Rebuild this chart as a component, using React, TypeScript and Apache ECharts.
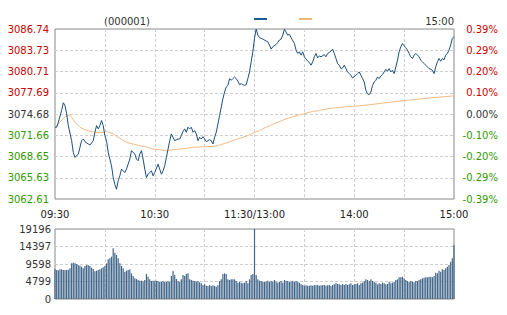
import React, { useEffect, useRef } from 'react';
import * as echarts from 'echarts';

// ---- tick labels ----
const priceTicks = ['3062.61', '3065.63', '3068.65', '3071.66', '3074.68', '3077.69', '3080.71', '3083.73', '3086.74'];
const pctTicks = ['-0.39%', '-0.29%', '-0.20%', '-0.10%', '0.00%', '0.10%', '0.20%', '0.29%', '0.39%'];
const volTicks = [0, 4799, 9598, 14397, 19196];
const timeTickMinutes = [0, 60, 120, 180, 240];
const timeTickLabels = ['09:30', '10:30', '11:30/13:00', '14:00', '15:00'];

// ---- price line (minute index from 09:30, price) ----
const priceMinutes = [
  0, 1, 2, 4, 5, 6, 7, 8, 10, 11, 12, 14, 15, 16, 17, 18, 20, 21, 22, 23, 24, 25, 26, 27, 28, 29,
  30, 31, 32, 34, 35, 36, 37, 38, 39, 40, 42, 43, 44, 45, 46, 48, 49, 50, 51, 52, 53, 54, 55, 56, 57, 58,
  59, 60, 62, 63, 64, 65, 66, 67, 68, 69, 70, 71, 72, 74, 75, 76, 77, 78, 79, 80, 81, 82, 83, 84, 85, 86, 87,
  88, 89, 90, 91, 93, 94, 95, 96, 97, 98, 99, 100, 101, 102, 103, 104, 105, 106, 107, 108, 109, 110, 111,
  112, 113, 114, 115, 116, 117, 118, 119, 120,
  121, 122, 123, 124, 125, 127, 128, 129, 130, 131, 133, 134, 135, 136, 137, 138, 140, 141, 142, 144, 145,
  146, 147, 148, 149, 150, 152, 153, 154, 155, 156, 157, 158, 159, 160, 162, 163, 164, 165, 166, 167, 168,
  169, 170, 171, 172, 173, 174, 175, 176, 177, 178, 179, 181, 182, 183, 184, 185, 186, 187, 188, 189, 190,
  191, 192, 193, 194, 195, 196, 197, 198, 199, 200, 201, 202, 203, 204, 205, 206, 207, 208, 209, 210, 211,
  212, 213, 214, 215, 216, 217, 218, 219, 220, 221, 222, 223, 224, 225, 226, 227, 228, 229, 230, 231, 232,
  233, 234, 235, 236, 237, 238, 239, 240,
];
const prices = [
  3072.80, 3072.80, 3073.51, 3075.18, 3076.27, 3075.89, 3074.70, 3073.03, 3070.89, 3069.23, 3068.51, 3068.99,
  3069.94, 3070.89, 3071.13, 3070.75, 3070.42, 3070.27, 3070.56, 3070.89, 3072.08, 3073.03, 3072.56, 3073.03,
  3073.75, 3073.03, 3071.61, 3070.89, 3069.23, 3067.32, 3065.66, 3064.71, 3063.99, 3065.18, 3065.90, 3066.85,
  3066.37, 3066.85, 3067.56, 3068.28, 3069.47, 3068.99, 3068.28, 3068.04, 3068.99, 3069.47, 3068.28, 3066.85,
  3065.66, 3066.13, 3066.37, 3066.61,
  3065.90, 3066.37, 3067.56, 3066.85, 3066.13, 3066.61, 3067.32, 3068.51, 3069.70, 3070.89, 3071.84, 3071.37,
  3070.89, 3071.13, 3071.13, 3071.61, 3072.18, 3072.56, 3072.08, 3072.80, 3072.56, 3072.80, 3072.08, 3072.32,
  3071.84, 3070.89, 3071.37,
  3071.13, 3071.46, 3071.13, 3070.75, 3071.03, 3070.89, 3070.42, 3071.37, 3072.08, 3073.27, 3074.46, 3075.65,
  3076.84, 3077.79, 3078.51, 3078.74, 3079.70, 3079.46, 3079.70, 3079.93, 3079.70, 3079.32, 3078.84,
  3078.98, 3078.84, 3078.74, 3078.84, 3079.70, 3080.65, 3082.07, 3083.50, 3085.41,
  3086.74, 3085.88, 3085.50, 3085.41, 3085.31, 3085.03, 3084.93, 3084.46, 3083.88, 3084.22, 3084.55, 3084.84,
  3085.17, 3085.31, 3085.88, 3086.70, 3085.88, 3085.98, 3085.50, 3084.69, 3083.74,
  3083.27, 3083.50, 3083.03, 3083.50, 3082.79, 3082.17, 3081.98, 3081.60, 3082.08, 3082.79, 3083.27, 3082.65,
  3082.93, 3082.79, 3083.12, 3082.79, 3083.27, 3083.41, 3083.60, 3083.88, 3083.27,
  3082.55, 3081.84, 3081.60, 3081.12, 3081.22, 3081.60, 3081.12, 3080.65, 3080.41, 3080.17, 3079.79, 3080.17,
  3080.41, 3080.65, 3080.17, 3079.70, 3079.22, 3078.03, 3077.56, 3077.41, 3077.79,
  3078.74, 3079.22, 3079.46, 3079.93, 3079.70, 3080.08, 3080.27, 3080.65, 3081.03, 3080.74, 3081.12, 3080.65,
  3080.89, 3080.41, 3081.36, 3082.31, 3083.50, 3084.22, 3084.69, 3084.36, 3084.08,
  3083.74, 3083.27, 3082.79, 3082.55, 3083.03, 3083.27, 3083.03, 3082.79, 3082.31, 3082.08, 3081.84, 3081.60,
  3081.36, 3081.12, 3081.03, 3080.89, 3080.41, 3081.36, 3082.08, 3082.55, 3082.17,
  3082.55, 3082.36, 3083.03, 3083.27, 3083.74, 3084.46, 3085.41, 3085.65,
];

// ---- average price line ----
const avgMinutes = [
  0, 3, 6, 9, 12, 15, 18, 21, 24, 27, 31, 35, 39, 43, 47, 51, 55, 59, 63, 67, 71, 75, 79, 83, 87, 91, 95, 99,
  103, 107, 111, 115, 119, 123, 127, 131, 135, 139, 143, 147, 151, 155, 159, 163, 167, 171, 175, 179, 189,
  199, 209, 219, 229, 240,
];
const avgPrices = [
  3072.80, 3073.50, 3074.30, 3074.56, 3073.50, 3072.79, 3072.45, 3072.22, 3072.08, 3071.99, 3072.22, 3071.85,
  3071.20, 3070.65, 3070.40, 3070.18, 3070.00, 3069.70, 3069.61, 3069.46, 3069.61, 3069.70, 3069.80, 3069.94,
  3069.99, 3070.04, 3070.08, 3070.27, 3070.56, 3070.89, 3071.22, 3071.51, 3071.95, 3072.32, 3072.80, 3073.22,
  3073.60, 3073.99, 3074.27, 3074.56, 3074.79, 3075.03, 3075.18, 3075.37, 3075.51, 3075.60, 3075.70, 3075.75,
  3075.98, 3076.27, 3076.55, 3076.79, 3077.03, 3077.25,
];

// ---- volume per minute ----
const volumeMorning = [
  8230, 7950, 7860, 8140, 8140, 7950, 7950, 7950, 8040, 8410, 9780, 9960, 9780, 9600, 9320, 9140, 8870, 8410,
  9050, 9320, 9230, 9050, 8590, 8230, 7590, 7770, 7950, 8140, 8410, 8680, 9050, 9780, 10880, 11150, 11610,
  13890, 12710, 12070, 11150, 9780, 9050, 8410, 7500, 7770, 7950, 8140, 7040, 6310, 5670, 5480, 5210, 5030,
  5030, 4840, 5210, 6860, 6120, 5390, 4940, 5030, 5030, 5030, 4940, 4750, 4660, 4940, 4750, 4660, 4940, 4750,
  6310, 7680, 6580, 5480, 4940, 4750, 5390, 6580, 6310, 6860, 7040, 5390, 5210, 5030, 4940, 4750, 4940, 4570,
  4300, 3840, 4020, 3660, 3570, 3840, 3570, 3750, 3570, 3380, 3840, 4940, 5390, 6860, 7040, 6860, 5390, 5210,
  5390, 5390, 5390, 4940, 4480, 4750, 4480, 4300, 4480, 4940, 4300, 5390, 6580, 6860,
];
const volumeAt1130 = 19196;
const volumeAfternoon = [
  6580, 5390, 5030, 4940, 4750, 4750, 4750, 5030, 4750, 4940, 4750, 5210, 4750, 4480, 4750, 4940, 4480, 5210,
  5030, 4940, 4750, 4750, 4940, 4750, 4940, 4750, 4480, 4110, 3840, 3660, 3750, 3660, 3660, 3750, 3660, 3840,
  3750, 3840, 3660, 3750, 3750, 3840, 3660, 3750, 3840, 3570, 3840, 4020, 4300, 4110, 4020, 3840, 4110, 3840,
  4110, 3840, 4020, 4300, 3840, 4020, 4110, 4300, 3840, 4300, 4480, 4940, 5390, 5210, 4940, 5390, 4940, 4750,
  4480, 4020, 4300, 4110, 4480, 4300, 4020, 4110, 4750, 4300, 4480, 4750, 5210, 5390, 5940, 5940, 6120, 5670,
  5210, 4940, 4750, 4940, 4750, 4570, 4940, 4940, 5210, 5390, 5670, 5850, 5940, 5940, 6120, 6120, 5940, 6310,
  7220, 7040, 7770, 7500, 8140, 7950, 8410, 8870, 9320, 10240, 11150, 14810,
];

const FONT = 'DejaVu Sans';
const RED = '#cc0000';
const GREEN = '#339900';
const DARK = '#333333';

export default function App() {
  const ref = useRef<HTMLDivElement>(null);

  useEffect(() => {
    if (!ref.current) return;
    const chart = echarts.init(ref.current, undefined, { renderer: 'svg' });

    const low = Number(priceTicks[0]);
    const high = Number(priceTicks[priceTicks.length - 1]);
    const steps = priceTicks.length - 1;
    const step = (high - low) / steps;
    const mid = Math.floor(steps / 2);
    const toIdx = (p: number) => (p - low) / step;

    const priceData = priceMinutes.map((m, i) => [m, toIdx(prices[i])]);
    const avgData = avgMinutes.map((m, i) => [m, toIdx(avgPrices[i])]);
    const volumes = [...volumeMorning, volumeAt1130, ...volumeAfternoon];
    const volData = volumes.map((v, i) => [i, v]);

    const tickColor = (v: any) => {
      const n = Math.round(Number(v));
      return n > mid ? RED : n < mid ? GREEN : DARK;
    };
    const timeLabel = (v: number) => {
      const i = timeTickMinutes.indexOf(Math.round(v));
      return i >= 0 ? timeTickLabels[i] : '';
    };
    const dashed = { color: '#cfcfcf', type: [3, 2] as any, width: 1 };

    const option: any = {
      animation: false,
      backgroundColor: '#ffffff',
      textStyle: { fontFamily: FONT, fontSize: 10 },
      grid: [
        { left: 55, top: 29, width: 399, height: 170, show: true, borderColor: '#888', borderWidth: 1, backgroundColor: 'transparent' },
        { left: 55, top: 229, width: 399, height: 70, show: true, borderColor: '#888', borderWidth: 1, backgroundColor: 'transparent' },
      ],
      xAxis: [
        {
          type: 'value', gridIndex: 0, min: 0, max: timeTickMinutes[timeTickMinutes.length - 1], interval: 30,
          axisLine: { show: false }, axisTick: { show: false },
          splitLine: { show: true, showMinLine: false, showMaxLine: false, lineStyle: dashed },
          axisLabel: { formatter: timeLabel, margin: 10, color: '#222', fontFamily: FONT, fontSize: 10, showMinLabel: true, showMaxLabel: true },
        },
        {
          type: 'value', gridIndex: 1, min: 0, max: timeTickMinutes[timeTickMinutes.length - 1], interval: 30,
          axisLine: { show: false }, axisTick: { show: false }, axisLabel: { show: false },
          splitLine: { show: true, showMinLine: false, showMaxLine: false, lineStyle: dashed },
        },
      ],
      yAxis: [
        {
          type: 'value', gridIndex: 0, position: 'left', min: 0, max: steps, interval: 1,
          axisLine: { show: false }, axisTick: { show: false },
          splitLine: { show: true, showMinLine: false, showMaxLine: false, lineStyle: dashed },
          axisLabel: { formatter: (v: number) => priceTicks[Math.round(v)], color: tickColor, margin: 6, fontFamily: FONT, fontSize: 10 },
        },
        {
          type: 'value', gridIndex: 0, position: 'right', min: 0, max: steps, interval: 1,
          axisLine: { show: false }, axisTick: { show: false }, splitLine: { show: false },
          axisLabel: { formatter: (v: number) => pctTicks[Math.round(v)], color: tickColor, margin: 44, align: 'right', fontFamily: FONT, fontSize: 10 },
        },
        {
          type: 'value', gridIndex: 1, position: 'left', min: volTicks[0], max: volTicks[volTicks.length - 1], interval: volTicks[1] - volTicks[0],
          axisLine: { show: false }, axisTick: { show: false },
          splitLine: { show: true, showMinLine: false, showMaxLine: false, lineStyle: dashed },
          axisLabel: { formatter: (v: number) => String(v), color: DARK, margin: 4, fontFamily: FONT, fontSize: 10 },
        },
      ],
      series: [
        {
          name: '均价', type: 'line', xAxisIndex: 0, yAxisIndex: 0, data: avgData, showSymbol: false, smooth: false,
          lineStyle: { color: '#f3bc86', width: 1 }, itemStyle: { color: '#f3bc86' }, z: 2,
        },
        {
          name: '上证指数', type: 'line', xAxisIndex: 0, yAxisIndex: 0, data: priceData, showSymbol: false,
          lineStyle: { color: '#1d4f7e', width: 1 }, itemStyle: { color: '#1d4f7e' }, z: 3,
        },
        {
          name: '成交量', type: 'bar', xAxisIndex: 1, yAxisIndex: 2, data: volData, barWidth: 1.2,
          itemStyle: { color: '#42668a' },
        },
      ],
      graphic: [
        { type: 'text', x: 104, y: 21, style: { text: '(000001)', font: `10px "${FONT}"`, fill: DARK, textVerticalAlign: 'middle' } },
        { type: 'text', x: 454, y: 21, style: { text: timeTickLabels[timeTickLabels.length - 1], font: `10px "${FONT}"`, fill: DARK, textAlign: 'right', textVerticalAlign: 'middle' } },
        { type: 'rect', shape: { x: 254, y: 18, width: 13, height: 2 }, style: { fill: '#1a5a9a' } },
        { type: 'rect', shape: { x: 299, y: 18, width: 13, height: 2 }, style: { fill: '#e8b87f' } },
      ],
    };

    chart.setOption(option);
    return () => chart.dispose();
  }, []);

  return (
    <div
      ref={ref}
      style={{ position: 'absolute', left: 0, top: 0, width: 507, height: 315, background: '#fff' }}
    />
  );
}
